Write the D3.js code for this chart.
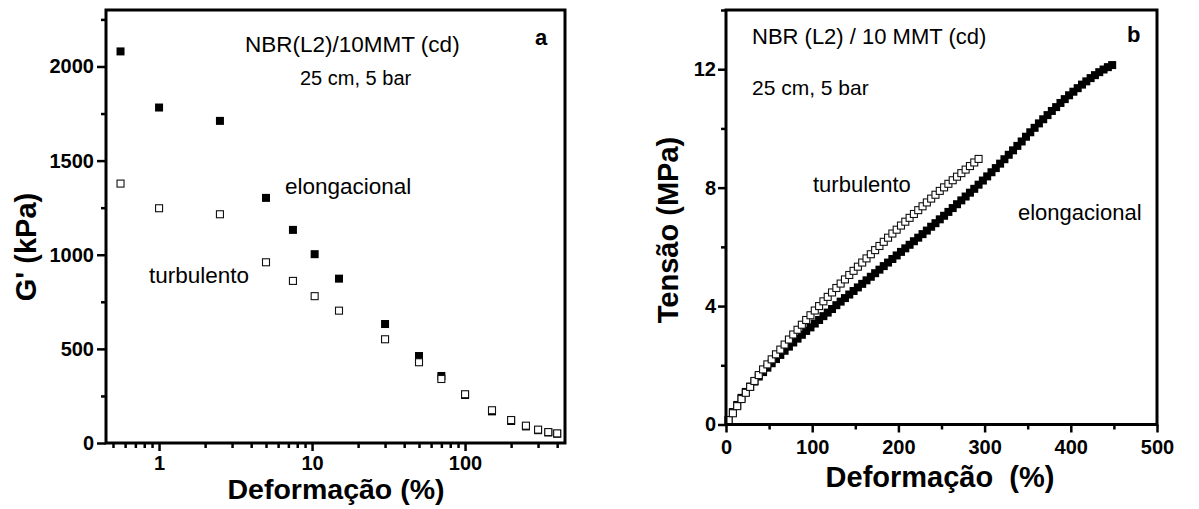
<!DOCTYPE html>
<html><head><meta charset="utf-8">
<script src="https://cdn.jsdelivr.net/npm/d3@7"></script>
<style>
html,body{margin:0;padding:0;background:#fff;}
svg{display:block;font-family:"Liberation Sans",Arial,Helvetica,sans-serif;}
</style></head><body>
<svg id="chart" width="1199" height="509"></svg>
<script>
// ---------- Panel a data ----------
const strainA = [0.56, 1, 2.5, 5, 7.5, 10.4, 15, 30, 50, 70, 100, 150, 200, 250, 300, 350, 400];
const gElong  = [2080, 1782, 1711, 1302, 1132, 1003, 873, 632, 462, 356, 255, 168, 117, 88, 68, 56, 49];
const gTurb   = [1378, 1247, 1215, 960, 861, 780, 703, 551, 429, 340, 259, 174, 122, 92, 71, 58, 51];
const xTicksA = [1, 10, 100];
const xMinorA = [0.5,0.6,0.7,0.8,0.9,2,3,4,5,6,7,8,9,20,30,40,50,60,70,80,90,200,300,400];
const yTicksA = [0, 500, 1000, 1500, 2000];
const yMinorA = [250, 750, 1250, 1750, 2250];

// ---------- Panel b data ----------
const strainTurbB = [3,8,13,18,23,28,33,38,43,48,53,58,63,68,73,78,83,88,93,98,
  103,108,113,118,123,128,133,138,143,148,153,158,163,168,173,178,183,188,193,198,
  203,208,213,218,223,228,233,238,243,248,253,258,263,268,273,278,283,288,293];
const stressTurbB = [0.15,0.38,0.62,0.86,1.07,1.27,1.47,1.67,1.86,2.03,
  2.2,2.37,2.53,2.7,2.87,3.04,3.2,3.37,3.53,3.69,
  3.85,4.0,4.16,4.31,4.46,4.61,4.76,4.9,5.05,5.19,
  5.33,5.47,5.61,5.75,5.89,6.03,6.17,6.31,6.45,6.58,
  6.72,6.85,6.98,7.11,7.24,7.37,7.5,7.63,7.76,7.89,
  8.01,8.13,8.25,8.37,8.49,8.61,8.73,8.85,8.97];
const strainElongB = [3,8,13,18,23,28,33,38,43,48,53,58,63,68,73,78,83,88,93,98,
  103,108,113,118,123,128,133,138,143,148,153,158,163,168,173,178,183,188,193,198,
  203,208,213,218,223,228,233,238,243,248,253,258,263,268,273,278,283,288,293,298,
  303,308,313,318,323,328,333,338,343,348,353,358,363,368,373,378,383,388,393,398,
  403,408,413,418,423,428,433,438,443,448];
const stressElongB = [0.15,0.42,0.66,0.9,1.1,1.28,1.45,1.62,1.77,1.92,
  2.07,2.21,2.35,2.49,2.63,2.77,2.9,3.03,3.16,3.28,
  3.41,3.53,3.66,3.78,3.9,4.03,4.15,4.27,4.39,4.51,
  4.63,4.75,4.87,4.99,5.11,5.23,5.35,5.47,5.59,5.71,
  5.83,5.95,6.07,6.19,6.31,6.43,6.55,6.68,6.8,6.93,
  7.05,7.18,7.31,7.44,7.57,7.7,7.83,7.96,8.1,8.24,
  8.38,8.52,8.66,8.81,8.96,9.11,9.26,9.41,9.56,9.72,
  9.87,10.02,10.17,10.31,10.45,10.59,10.72,10.86,10.99,11.12,
  11.24,11.36,11.48,11.59,11.7,11.8,11.9,11.99,12.07,12.14];
const xTicksB = [0, 100, 200, 300, 400, 500];
const xMinorB = [50, 150, 250, 350, 450];
const yTicksB = [0, 4, 8, 12];
const yMinorB = [2, 6, 10, 14];

const svg = d3.select('#chart');

function styleAxis(g, fs) {
  g.attr('font-family', null).attr('font-size', null);
  g.select('.domain').remove();
  g.selectAll('.tick line').attr('stroke', '#000').attr('stroke-width', 2.5);
  g.selectAll('.tick text').attr('fill', '#000')
    .style('font-size', fs + 'px').style('font-weight', 'bold');
}

function squares(g, xs, ys, x, y, size, filled) {
  const h = size / 2;
  g.selectAll(null).data(xs.map((v, i) => [v, ys[i]])).enter().append('rect')
    .attr('x', d => x(d[0]) - h).attr('y', d => y(d[1]) - h)
    .attr('width', size).attr('height', size)
    .attr('fill', filled ? '#000' : '#fff')
    .attr('stroke', filled ? 'none' : '#111')
    .attr('stroke-width', filled ? 0 : 1.1);
}

function label(txt, x, y, fs, weight, anchor, rot) {
  const t = svg.append('text').attr('fill', '#000')
    .style('font-size', fs + 'px').style('font-weight', weight)
    .style('white-space', 'pre')
    .attr('text-anchor', anchor || 'start').text(txt);
  if (rot) t.attr('transform', `translate(${x},${y}) rotate(${rot})`);
  else t.attr('x', x).attr('y', y);
  return t;
}

// ================= Panel a =================
const A = {l: 106, r: 565, t: 10, b: 443};
const xA = d3.scaleLog().domain([0.45, 450]).range([A.l, A.r]);
const yA = d3.scaleLinear().domain([0, 2300]).range([A.b, A.t]);

const gAxm = svg.append('g').attr('transform', `translate(0,${A.b})`)
  .call(d3.axisBottom(xA).tickValues(xMinorA).tickSize(5).tickSizeOuter(0).tickFormat(''));
styleAxis(gAxm, 20);
const gAx = svg.append('g').attr('transform', `translate(0,${A.b})`)
  .call(d3.axisBottom(xA).tickValues(xTicksA).tickSize(8).tickSizeOuter(0).tickPadding(5).tickFormat(d3.format('d')));
styleAxis(gAx, 20);
const gAym = svg.append('g').attr('transform', `translate(${A.l},0)`)
  .call(d3.axisLeft(yA).tickValues(yMinorA).tickSize(5).tickSizeOuter(0).tickFormat(''));
styleAxis(gAym, 20);
const gAy = svg.append('g').attr('transform', `translate(${A.l},0)`)
  .call(d3.axisLeft(yA).tickValues(yTicksA).tickSize(9).tickSizeOuter(0).tickPadding(3).tickFormat(d3.format('d')));
styleAxis(gAy, 20);

const gA = svg.append('g');
squares(gA, strainA, gElong, xA, yA, 8, true);
squares(gA, strainA, gTurb, xA, yA, 7, false);

svg.append('rect').attr('x', A.l).attr('y', A.t).attr('width', A.r - A.l).attr('height', A.b - A.t)
  .attr('fill', 'none').attr('stroke', '#000').attr('stroke-width', 3);

label('NBR(L2)/10MMT (cd)', 245, 52, 22.5, 'normal');
label('25 cm, 5 bar', 300, 85, 20, 'normal');
label('elongacional', 285, 194, 22.5, 'normal');
label('turbulento', 149, 283, 22.5, 'normal');
label('a', 535, 45, 22, 'bold');
label('Deformação (%)', 336, 499, 28.5, 'bold', 'middle');
label("G' (kPa)", 36, 247, 29, 'bold', 'middle', -90);

// ================= Panel b =================
const B = {l: 726, r: 1157, t: 10, b: 424.5};
const xB = d3.scaleLinear().domain([0, 500]).range([B.l, B.r]);
const yB = d3.scaleLinear().domain([0, 14]).range([B.b, B.t]);

const gBxm = svg.append('g').attr('transform', `translate(0,${B.b})`)
  .call(d3.axisBottom(xB).tickValues(xMinorB).tickSize(5).tickSizeOuter(0).tickFormat(''));
styleAxis(gBxm, 20);
const gBx = svg.append('g').attr('transform', `translate(0,${B.b})`)
  .call(d3.axisBottom(xB).tickValues(xTicksB).tickSize(8).tickSizeOuter(0).tickPadding(7).tickFormat(d3.format('d')));
styleAxis(gBx, 20);
const gBym = svg.append('g').attr('transform', `translate(${B.l},0)`)
  .call(d3.axisLeft(yB).tickValues(yMinorB).tickSize(5).tickSizeOuter(0).tickFormat(''));
styleAxis(gBym, 20);
const gBy = svg.append('g').attr('transform', `translate(${B.l},0)`)
  .call(d3.axisLeft(yB).tickValues(yTicksB).tickSize(8).tickSizeOuter(0).tickPadding(2).tickFormat(d3.format('d')));
styleAxis(gBy, 20);

const gB = svg.append('g');
squares(gB, strainElongB, stressElongB, xB, yB, 8, true);
squares(gB, strainTurbB, stressTurbB, xB, yB, 7, false);

svg.append('rect').attr('x', B.l).attr('y', B.t).attr('width', B.r - B.l).attr('height', B.b - B.t)
  .attr('fill', 'none').attr('stroke', '#000').attr('stroke-width', 3);

label('NBR (L2) / 10 MMT (cd)', 752, 44, 22, 'normal');
label('25 cm, 5 bar', 752, 95, 21, 'normal');
label('turbulento', 813, 192, 22, 'normal');
label('elongacional', 1018, 220, 22, 'normal');
label('b', 1127, 42, 22, 'bold');
label('Deformação  (%)', 940, 487, 29, 'bold', 'middle');
label('Tensão (MPa)', 678, 230, 29, 'bold', 'middle', -90);
</script>
</body></html>
